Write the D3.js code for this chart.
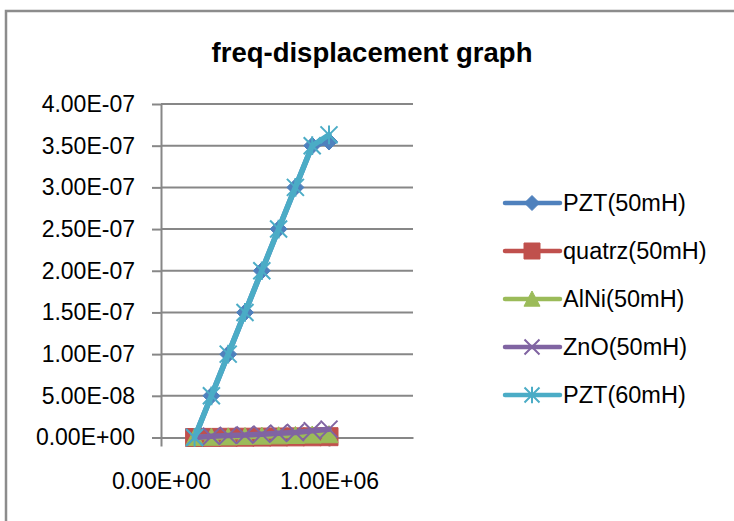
<!DOCTYPE html>
<html>
<head>
<meta charset="utf-8">
<script src="https://cdn.jsdelivr.net/npm/d3@7"></script>
<style>
  html, body { margin: 0; padding: 0; background: #fff; overflow: hidden; width: 734px; height: 521px; }
  svg { display: block; position: absolute; left: 0; top: 0; }
  text { font-family: "Liberation Sans", Arial, sans-serif; fill: #000; }
</style>
</head>
<body>
<svg id="chart" width="734" height="521"></svg>
<script>
// ---- data ----
const chartTitle = "freq-displacement graph";
const frequency = [200000, 300000, 400000, 500000, 600000, 700000, 800000, 900000, 1000000];
const seriesNames = ["PZT(50mH)", "quatrz(50mH)", "AlNi(50mH)", "ZnO(50mH)", "PZT(60mH)"];
const pzt50  = [0, 5.0e-8, 1.0e-7, 1.5e-7, 2.0e-7, 2.5e-7, 3.0e-7, 3.5e-7, 3.55e-7];
const quartz = [0, 1.2e-10, 2.5e-10, 3.6e-10, 5.0e-10, 6.1e-10, 7.4e-10, 8.6e-10, 9.8e-10];
const alni   = [0, 4.0e-10, 8.0e-10, 1.2e-9, 1.7e-9, 2.1e-9, 2.5e-9, 3.0e-9, 3.4e-9];
const zno    = [0, 1.5e-9, 2.5e-9, 3.0e-9, 4.0e-9, 5.0e-9, 6.0e-9, 8.0e-9, 1.0e-8];
const pzt60  = [0, 5.0e-8, 1.0e-7, 1.5e-7, 2.0e-7, 2.5e-7, 3.0e-7, 3.5e-7, 3.63e-7];
const yTickValues = [0, 5e-8, 1e-7, 1.5e-7, 2e-7, 2.5e-7, 3e-7, 3.5e-7, 4e-7];
const xTickValues = [0, 1e6];
const seriesColors = ["#4F81BD", "#C0504D", "#9BBB59", "#8064A2", "#4BACC6"];

// ---- marker shapes ----
const diamondType = { draw(ctx, size) { const r = Math.sqrt(size) / 2;
  ctx.moveTo(0, -r); ctx.lineTo(r, 0); ctx.lineTo(0, r); ctx.lineTo(-r, 0); ctx.closePath(); } };
const squareType = { draw(ctx, size) { const r = Math.sqrt(size) / 2;
  ctx.rect(-r, -r, 2 * r, 2 * r); } };
const triangleType = { draw(ctx, size) { const w = Math.sqrt(size);
  ctx.moveTo(0, -0.5 * w); ctx.lineTo(0.5 * w, 0.45 * w); ctx.lineTo(-0.5 * w, 0.45 * w); ctx.closePath(); } };
const timesType = { draw(ctx, size) { const r = Math.sqrt(size) / 2;
  ctx.moveTo(-r, -r); ctx.lineTo(r, r); ctx.moveTo(r, -r); ctx.lineTo(-r, r); } };
const starType = { draw(ctx, size) { const r = Math.sqrt(size) / 2;
  ctx.moveTo(-r, -r); ctx.lineTo(r, r); ctx.moveTo(r, -r); ctx.lineTo(-r, r);
  ctx.moveTo(0, -r * 1.1); ctx.lineTo(0, r * 1.1); } };

const seriesValues = [pzt50, quartz, alni, zno, pzt60];
const markerTypes = [diamondType, squareType, triangleType, timesType, starType];
const markerFilled = [true, true, true, false, false];
const markerSizes = [17, 18, 18, 17, 17];

const series = seriesNames.map((name, i) => ({
  name,
  color: seriesColors[i],
  type: markerTypes[i],
  filled: markerFilled[i],
  msize: markerSizes[i],
  points: frequency.map((f, j) => [f, seriesValues[i][j]])
}));

// ---- formatting ----
function sci(v) {
  const s = d3.format(".2e")(v);
  const [m, e] = s.split("e");
  const n = +e;
  return m + "E" + (n < 0 ? "-" : "+") + String(Math.abs(n)).padStart(2, "0");
}

// ---- layout ----
const svg = d3.select("#chart");
const x = d3.scaleLinear().domain([0, 1.5e6]).range([161, 413]);
const y = d3.scaleLinear().domain([0, 4e-7]).range([437.5, 104]);
const axisColor = "#878787";

// white page background
svg.append("rect")
  .attr("x", 0).attr("y", 0).attr("width", 734).attr("height", 521)
  .attr("fill", "#fff");

// outer chart frame (runs past the right and bottom edges)
svg.append("path")
  .attr("d", "M6,600 L6,11 L800,11")
  .attr("fill", "none").attr("stroke", "#8c8c8c").attr("stroke-width", 2.5);

// title
svg.append("text")
  .attr("x", 372).attr("y", 62)
  .attr("text-anchor", "middle")
  .style("font-weight", "bold").style("font-size", "27.5px")
  .text(chartTitle);

// horizontal gridlines
svg.append("g").selectAll("line")
  .data(yTickValues.slice(1))
  .join("line")
  .attr("x1", x(0)).attr("x2", x(1.5e6))
  .attr("y1", d => y(d)).attr("y2", d => y(d))
  .attr("stroke", axisColor).attr("stroke-width", 2);

// y axis
const yAxis = svg.append("g")
  .attr("transform", `translate(${x(0)},0)`)
  .call(d3.axisLeft(y).tickValues(yTickValues).tickFormat(sci).tickSizeInner(9).tickSizeOuter(0).tickPadding(17));

// x axis
const xAxis = svg.append("g")
  .attr("transform", `translate(0,${y(0)})`)
  .call(d3.axisBottom(x).tickValues(xTickValues).tickFormat(sci).tickSizeInner(9).tickSizeOuter(0).tickPadding(26));

[yAxis, xAxis].forEach(g => {
  g.select(".domain").attr("stroke", axisColor).attr("stroke-width", 2);
  g.selectAll(".tick line").attr("stroke", axisColor).attr("stroke-width", 2);
  g.selectAll(".tick text")
    .style("font-family", "'Liberation Sans', Arial, sans-serif")
    .style("font-size", "23px").attr("fill", "#000");
});

// series: line then markers, in order
const line = d3.line().x(d => x(d[0])).y(d => y(d[1]));
const plot = svg.append("g");
series.forEach(s => {
  const g = plot.append("g");
  g.append("path")
    .datum(s.points)
    .attr("d", line)
    .attr("fill", "none")
    .attr("stroke", s.color)
    .attr("stroke-width", 5.5)
    .attr("stroke-linejoin", "round")
    .attr("stroke-linecap", "round");
  g.selectAll("path.mk")
    .data(s.points)
    .join("path")
    .attr("class", "mk")
    .attr("transform", d => `translate(${x(d[0])},${y(d[1])})`)
    .attr("d", d3.symbol().type(s.type).size(s.msize * s.msize))
    .attr("fill", s.filled ? s.color : "none")
    .attr("stroke", s.color)
    .attr("stroke-width", s.filled ? 1 : 2);
});

// legend
const legend = svg.append("g");
series.forEach((s, i) => {
  const ly = 203 + i * 48;
  const g = legend.append("g").attr("transform", `translate(0,${ly})`);
  g.append("line")
    .attr("x1", 505).attr("x2", 560).attr("y1", 0).attr("y2", 0)
    .attr("stroke", s.color).attr("stroke-width", 4.5).attr("stroke-linecap", "round");
  g.append("path")
    .attr("transform", "translate(532,0)")
    .attr("d", d3.symbol().type(s.type).size((s.msize - 2) * (s.msize - 2)))
    .attr("fill", s.filled ? s.color : "none")
    .attr("stroke", s.color)
    .attr("stroke-width", s.filled ? 1 : 2);
  g.append("text")
    .attr("x", 563).attr("y", 0).attr("dy", "0.35em")
    .style("font-size", "23.5px")
    .text(s.name);
});
</script>
</body>
</html>
